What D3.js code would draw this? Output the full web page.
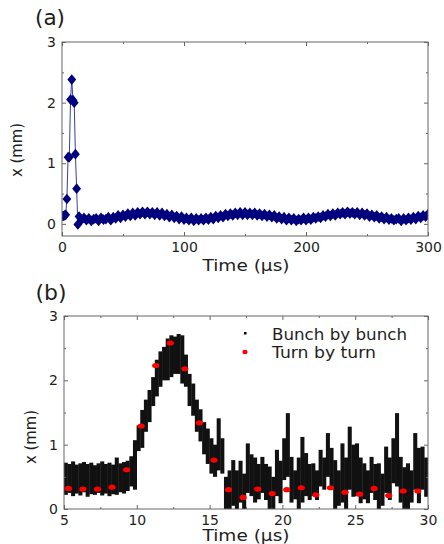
<!DOCTYPE html>
<html>
<head>
<meta charset="utf-8">
<script src="https://cdn.jsdelivr.net/npm/d3@7"></script>
<style>
  body { margin: 0; background: #fff; }
  svg text { font-family: "DejaVu Sans", Verdana, sans-serif; fill: #1e1e1e; }
</style>
</head>
<body>
<div id="chart"></div>
<script>
// ---- panel (a): turn by turn position over 300 us ----
var aTime = [0,1,2,3,4,5,6,7,8,9,10,11,12,13,
  14,16,18,20,22,24,26,28,30,32,34,36,38,40,42,44,46,48,50,52,54,56,58,60,62,64,66,68,70,72,74,76,78,80,
  82,84,86,88,90,92,94,96,98,100,102,104,106,108,110,112,114,116,118,120,122,124,126,128,130,132,134,136,138,140,
  142,144,146,148,150,152,154,156,158,160,162,164,166,168,170,172,174,176,178,180,182,184,186,188,190,192,194,196,
  198,200,202,204,206,208,210,212,214,216,218,220,222,224,226,228,230,232,234,236,238,240,242,244,246,248,250,252,
  254,256,258,260,262,264,266,268,270,272,274,276,278,280,282,284,286,288,290,292,294,296,298,300];
var aX = [0.13,0.13,0.14,0.15,0.41,1.10,1.10,2.05,2.38,2.04,2.00,1.15,0.58,-0.01,
  0.12,0.07,0.10,0.06,0.09,0.05,0.08,
  0.09,0.05,0.10,0.07,0.08,0.11,0.06,0.11,0.09,0.14,0.10,0.15,0.12,0.17,0.13,0.18,0.14,0.19,0.16,0.20,
  0.16,0.20,0.16,0.19,0.15,0.19,0.14,0.18,0.13,0.16,0.11,0.15,0.10,0.13,0.08,0.12,0.07,0.10,0.06,0.10,0.05,
  0.09,0.06,0.09,0.06,0.10,0.07,0.11,0.08,0.13,0.10,0.14,0.11,0.16,0.13,0.17,0.14,0.18,0.15,0.19,0.15,
  0.19,0.15,0.18,0.15,0.18,0.14,0.17,0.13,0.16,0.12,0.15,0.11,0.14,0.09,0.12,0.08,0.11,0.06,0.10,0.06,0.09,0.05,
  0.08,0.06,0.10,0.06,0.10,0.07,0.11,0.09,0.12,0.10,0.14,0.12,0.16,0.13,0.17,0.14,0.18,0.16,0.19,0.16,
  0.20,0.17,0.19,0.16,0.19,0.15,0.18,0.14,0.17,0.12,0.15,0.11,0.14,0.09,0.12,0.08,0.11,0.07,0.09,0.06,0.08,
  0.09,0.05,0.09,0.06,0.10,0.07,0.11,0.08,0.13,0.10,0.14,0.12,0.16];

// ---- panel (b): bunch by bunch spread (per 0.25 us bin) and turn by turn points ----
var bbT = [5,5.25,5.5,5.75,6,6.25,6.5,6.75,7,7.25,7.5,7.75,8,8.25,8.5,8.75,9,9.25,9.5,9.75,
  10,10.25,10.5,10.75,11,11.25,11.5,11.75,12,12.25,12.5,12.75,13,13.25,13.5,13.75,14,14.25,14.5,14.75,
  15,15.25,15.5,15.75,16,16.25,16.5,16.75,17,17.25,17.5,17.75,18,18.25,18.5,18.75,19,19.25,19.5,19.75,
  20,20.25,20.5,20.75,21,21.25,21.5,21.75,22,22.25,22.5,22.75,23,23.25,23.5,23.75,24,24.25,24.5,24.75,
  25,25.25,25.5,25.75,26,26.25,26.5,26.75,27,27.25,27.5,27.75,28,28.25,28.5,28.75,29,29.25,29.5,29.75];
var bbHi = [0.72,0.70,0.74,0.69,0.71,0.73,0.70,0.72,0.68,0.71,0.74,0.70,0.72,0.69,0.80,0.71,0.73,0.75,0.82,1.07,
  1.30,1.54,1.70,1.85,2.05,2.32,2.45,2.52,2.65,2.70,2.68,2.72,2.70,2.40,2.10,1.95,1.70,1.55,1.35,1.25,
  1.10,1.00,1.41,1.10,0.50,0.60,0.76,0.60,0.75,0.55,1.02,0.85,0.80,0.70,0.81,0.70,0.66,0.50,0.92,0.75,
  1.10,1.49,0.81,0.60,0.80,1.12,0.87,0.70,0.71,0.60,0.92,0.80,1.18,0.95,0.76,0.60,1.02,0.80,1.28,1.00,
  1.02,0.80,0.71,0.60,0.81,0.70,0.71,0.55,0.97,0.80,1.10,1.49,0.81,0.65,0.71,0.60,1.18,0.95,0.97,0.80];
var bbLo = [0.22,0.25,0.20,0.24,0.21,0.26,0.19,0.23,0.22,0.25,0.21,0.24,0.20,0.23,0.22,0.26,0.24,0.28,0.35,0.30,
  0.90,0.95,1.20,1.35,1.60,1.75,1.90,2.00,2.00,2.05,2.10,2.10,1.95,1.90,1.60,1.45,1.20,1.05,0.85,0.70,
  0.55,0.50,0.60,0.55,0.00,0.00,0.05,0.00,0.10,0.00,0.25,0.20,0.10,0.15,0.25,0.14,0.00,0.00,0.20,0.09,
  0.45,0.50,0.10,0.15,0.00,0.10,0.20,0.14,0.20,0.14,0.35,0.30,0.50,0.35,0.00,0.05,0.10,0.00,0.30,0.19,
  0.20,0.09,0.15,0.09,0.25,0.14,0.00,0.05,0.25,0.14,0.40,0.35,0.10,0.00,0.00,0.10,0.30,0.09,0.30,0.19];
var bbBin = 0.25;

var tbtTime = [5.3,6.3,7.3,8.3,9.3,10.3,11.3,12.3,13.3,14.3,15.3,16.3,17.3,18.3,19.3,20.3,21.3,22.3,23.3,24.3,25.3,26.3,27.3,28.3,29.3];
var tbtX = [0.32,0.31,0.31,0.34,0.61,1.29,2.23,2.58,2.18,1.34,0.76,0.30,0.18,0.31,0.24,0.30,0.33,0.22,0.33,0.26,0.23,0.32,0.21,0.28,0.28];

var W = 444, H = 544;

var svg = d3.select("#chart").append("svg")
  .attr("width", W).attr("height", H);

// scales for both panels
var xa = d3.scaleLinear().domain([0, 300]).range([62, 428]);
var ya = d3.scaleLinear().domain([-0.2, 3]).range([236, 42]);
var xb = d3.scaleLinear().domain([5, 30]).range([64, 428]);
var yb = d3.scaleLinear().domain([0, 3]).range([509, 316]);

// draws the box, inward ticks on all four sides and the tick labels
function drawFrame(x, y, xMajor, xMinor, yMajor, yMinor) {
  var g = svg.append("g");
  var x0 = x.range()[0], x1 = x.range()[1], y0 = y.range()[0], y1 = y.range()[1];
  var fmt = d3.format("d");

  var axes = [
    [d3.axisBottom(x).tickValues(xMajor).tickSize(-4).tickPadding(6).tickFormat(fmt), "translate(0," + y0 + ")", true],
    [d3.axisBottom(x).tickValues(xMinor).tickSize(-2).tickFormat(""), "translate(0," + y0 + ")", false],
    [d3.axisTop(x).tickValues(xMajor).tickSize(-4).tickFormat(""), "translate(0," + y1 + ")", false],
    [d3.axisTop(x).tickValues(xMinor).tickSize(-2).tickFormat(""), "translate(0," + y1 + ")", false],
    [d3.axisLeft(y).tickValues(yMajor).tickSize(-4).tickPadding(6).tickFormat(fmt), "translate(" + x0 + ",0)", true],
    [d3.axisLeft(y).tickValues(yMinor).tickSize(-2).tickFormat(""), "translate(" + x0 + ",0)", false],
    [d3.axisRight(y).tickValues(yMajor).tickSize(-4).tickFormat(""), "translate(" + x1 + ",0)", false],
    [d3.axisRight(y).tickValues(yMinor).tickSize(-2).tickFormat(""), "translate(" + x1 + ",0)", false]
  ];
  axes.forEach(function(a) {
    var ax = g.append("g").attr("transform", a[1]).call(a[0]);
    ax.select(".domain").remove();
    ax.selectAll(".tick line").attr("stroke", "#666");
    if (a[2]) {
      ax.selectAll("text")
        .attr("font-size", 14)
        .style("font-family", "'DejaVu Sans', Verdana, sans-serif")
        .attr("fill", "#1e1e1e");
    }
  });

  g.append("rect")
    .attr("x", x0).attr("y", y1)
    .attr("width", x1 - x0).attr("height", y0 - y1)
    .attr("fill", "none").attr("stroke", "#666").attr("stroke-width", 1);
}

function label(txt, x, y, size, len, rotate) {
  var t = svg.append("text").text(txt)
    .attr("font-size", size)
    .attr("text-anchor", "middle");
  if (len) t.attr("textLength", len).attr("lengthAdjust", "spacingAndGlyphs");
  if (rotate) t.attr("transform", "translate(" + x + "," + y + ") rotate(-90)");
  else t.attr("x", x).attr("y", y);
  return t;
}

// ---- panel (a) ----
svg.append("clipPath").attr("id", "clipA").append("rect")
  .attr("x", 62).attr("y", 42).attr("width", 366).attr("height", 194);

var aData = aTime.map(function(t, i) { return {t: t, v: aX[i]}; });

var lineA = d3.line()
  .x(function(d) { return xa(d.t); })
  .y(function(d) { return ya(d.v); });

var gA = svg.append("g").attr("clip-path", "url(#clipA)");
gA.append("path")
  .datum(aData)
  .attr("d", lineA)
  .attr("fill", "none")
  .attr("stroke", "#3b3bb0")
  .attr("stroke-width", 1);

var diamond = d3.symbol().type(d3.symbolDiamond).size(30);
gA.selectAll(".mk")
  .data(aData)
  .enter()
  .append("path")
  .attr("class", "mk")
  .attr("d", diamond)
  .attr("transform", function(d) { return "translate(" + xa(d.t) + "," + ya(d.v) + ") scale(1.5,1.05)"; })
  .attr("fill", "#00007e");

drawFrame(xa, ya, [0, 100, 200, 300], [50, 150, 250], [0, 1, 2, 3], [0.5, 1.5, 2.5]);

label("(a)", 50, 25, 21, 30);
label("Time (\u00b5s)", 246, 271, 15, 87);
label("x (mm)", 22, 150, 15, 54, true);

// ---- panel (b) ----
svg.append("clipPath").attr("id", "clipB").append("rect")
  .attr("x", 64).attr("y", 316).attr("width", 364).attr("height", 193);

var gB = svg.append("g").attr("clip-path", "url(#clipB)");

var bbData = bbT.map(function(t, i) { return {t: t, lo: bbLo[i], hi: bbHi[i]}; });
var bw = xb(5 + bbBin) - xb(5);

// neighbouring bins overlap slightly so the dense parts read as one solid band
gB.selectAll(".bb")
  .data(bbData)
  .enter()
  .append("rect")
  .attr("class", "bb")
  .attr("x", function(d) { return xb(d.t) - 0.2; })
  .attr("width", bw + 0.4)
  .attr("y", function(d) { return yb(d.hi); })
  .attr("height", function(d) { return yb(d.lo) - yb(d.hi); })
  .attr("fill", "#111");

gB.selectAll(".tbt")
  .data(tbtTime)
  .enter()
  .append("ellipse")
  .attr("class", "tbt")
  .attr("cx", function(d) { return xb(d); })
  .attr("cy", function(d, i) { return yb(tbtX[i]); })
  .attr("rx", 3.6).attr("ry", 2.6)
  .attr("fill", "#ff0000");

drawFrame(xb, yb, [5, 10, 15, 20, 25, 30], [7.5, 12.5, 17.5, 22.5, 27.5], [0, 1, 2, 3], [0.5, 1.5, 2.5]);

label("(b)", 51, 300, 21, 31);
label("Time (\u00b5s)", 246, 541, 15, 87);
label("x (mm)", 36, 437, 15, 54, true);

// legend
var leg = svg.append("g");
leg.append("rect").attr("x", 244).attr("y", 332).attr("width", 2.5).attr("height", 2.5).attr("fill", "#000");
leg.append("ellipse").attr("cx", 245).attr("cy", 352).attr("rx", 2.6).attr("ry", 2.2).attr("fill", "#ff0000");
leg.append("text").text("Bunch by bunch").attr("x", 272).attr("y", 340)
  .attr("font-size", 15).attr("textLength", 135).attr("lengthAdjust", "spacingAndGlyphs");
leg.append("text").text("Turn by turn").attr("x", 272).attr("y", 358)
  .attr("font-size", 15).attr("textLength", 104).attr("lengthAdjust", "spacingAndGlyphs");
</script>
</body>
</html>
